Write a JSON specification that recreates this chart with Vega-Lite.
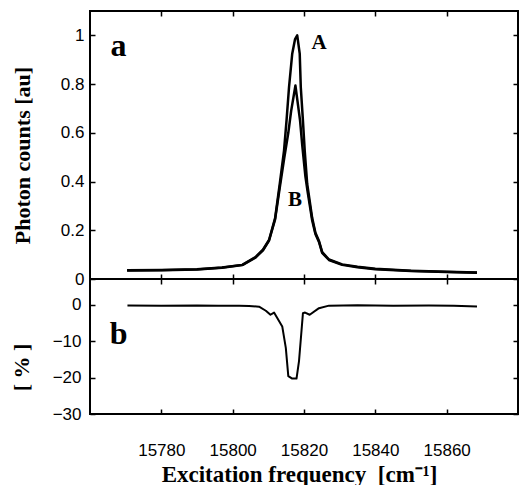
{
  "$schema": "https://vega.github.io/schema/vega-lite/v6.json",
  "background": "white",
  "padding": {"left": 9, "top": 9, "right": 0, "bottom": 0},
  "spacing": 0,
  "bounds": "flush",
  "config": {
    "view": {"stroke": "black", "strokeWidth": 2},
    "axis": {
      "domain": false, "grid": false, "tickColor": "black", "tickSize": -5, "tickWidth": 1.5,
      "labelFont": "Liberation Sans", "labelFontSize": 17, "labelColor": "black",
      "titleFont": "Liberation Serif", "titleFontWeight": "bold", "titleColor": "black", "titleFontSize": 22
    }
  },
  "datasets": {
    "spec": [
      {"f": 15770.4, "v": 0.036, "s": "A"}, {"f": 15780, "v": 0.037, "s": "A"}, {"f": 15790, "v": 0.040, "s": "A"},
      {"f": 15797, "v": 0.047, "s": "A"}, {"f": 15802.7, "v": 0.058, "s": "A"}, {"f": 15806.4, "v": 0.09, "s": "A"},
      {"f": 15808.5, "v": 0.12, "s": "A"}, {"f": 15810.2, "v": 0.16, "s": "A"}, {"f": 15811.9, "v": 0.25, "s": "A"},
      {"f": 15813.2, "v": 0.39, "s": "A"}, {"f": 15814.4, "v": 0.527, "s": "A"}, {"f": 15815.1, "v": 0.65, "s": "A"},
      {"f": 15815.8, "v": 0.787, "s": "A"}, {"f": 15816.7, "v": 0.925, "s": "A"}, {"f": 15817.5, "v": 0.985, "s": "A"},
      {"f": 15818.1, "v": 1.0, "s": "A"}, {"f": 15818.8, "v": 0.925, "s": "A"}, {"f": 15819.1, "v": 0.787, "s": "A"},
      {"f": 15819.7, "v": 0.65, "s": "A"}, {"f": 15820.2, "v": 0.527, "s": "A"}, {"f": 15820.9, "v": 0.39, "s": "A"},
      {"f": 15822.3, "v": 0.25, "s": "A"}, {"f": 15823.2, "v": 0.19, "s": "A"}, {"f": 15824.2, "v": 0.156, "s": "A"},
      {"f": 15825.1, "v": 0.11, "s": "A"}, {"f": 15827, "v": 0.08, "s": "A"}, {"f": 15830.7, "v": 0.06, "s": "A"},
      {"f": 15835, "v": 0.05, "s": "A"}, {"f": 15840, "v": 0.042, "s": "A"}, {"f": 15850, "v": 0.034, "s": "A"},
      {"f": 15860, "v": 0.03, "s": "A"}, {"f": 15868.5, "v": 0.027, "s": "A"},
      {"f": 15770.4, "v": 0.035, "s": "B"}, {"f": 15780, "v": 0.036, "s": "B"}, {"f": 15790, "v": 0.039, "s": "B"},
      {"f": 15797, "v": 0.046, "s": "B"}, {"f": 15802.7, "v": 0.057, "s": "B"}, {"f": 15806.4, "v": 0.088, "s": "B"},
      {"f": 15808.5, "v": 0.118, "s": "B"}, {"f": 15810.2, "v": 0.158, "s": "B"}, {"f": 15811.9, "v": 0.245, "s": "B"},
      {"f": 15813.3, "v": 0.385, "s": "B"}, {"f": 15814.5, "v": 0.5, "s": "B"}, {"f": 15815.6, "v": 0.6, "s": "B"},
      {"f": 15816.4, "v": 0.69, "s": "B"}, {"f": 15817.6, "v": 0.794, "s": "B"}, {"f": 15818.9, "v": 0.65, "s": "B"},
      {"f": 15819.5, "v": 0.55, "s": "B"}, {"f": 15820.4, "v": 0.42, "s": "B"}, {"f": 15821.0, "v": 0.36, "s": "B"},
      {"f": 15822.3, "v": 0.24, "s": "B"}, {"f": 15823.2, "v": 0.185, "s": "B"}, {"f": 15824.2, "v": 0.152, "s": "B"},
      {"f": 15825.1, "v": 0.107, "s": "B"}, {"f": 15827, "v": 0.078, "s": "B"}, {"f": 15830.7, "v": 0.058, "s": "B"},
      {"f": 15835, "v": 0.048, "s": "B"}, {"f": 15840, "v": 0.04, "s": "B"}, {"f": 15850, "v": 0.033, "s": "B"},
      {"f": 15860, "v": 0.029, "s": "B"}, {"f": 15868.5, "v": 0.026, "s": "B"}
    ],
    "diff": [
      {"f": 15770.5, "d": -0.27}, {"f": 15780, "d": -0.3}, {"f": 15790, "d": -0.25}, {"f": 15796, "d": -0.35},
      {"f": 15801.8, "d": -0.3}, {"f": 15804.6, "d": -0.4}, {"f": 15807.4, "d": -0.6}, {"f": 15809.3, "d": -1.7},
      {"f": 15810.6, "d": -2.8}, {"f": 15811.6, "d": -2.2}, {"f": 15813.9, "d": -6.0}, {"f": 15814.9, "d": -11.9},
      {"f": 15815.6, "d": -19.6}, {"f": 15816.7, "d": -20.3}, {"f": 15817.9, "d": -20.3}, {"f": 15818.6, "d": -15.5},
      {"f": 15819.7, "d": -2.4}, {"f": 15820.3, "d": -2.2}, {"f": 15821.6, "d": -2.8}, {"f": 15824.2, "d": -1.0},
      {"f": 15827, "d": -0.3}, {"f": 15835, "d": -0.2}, {"f": 15845, "d": -0.3}, {"f": 15855, "d": -0.25},
      {"f": 15862, "d": -0.35}, {"f": 15868.5, "d": -0.55}
    ]
  },
  "vconcat": [
    {
      "width": 428, "height": 268,
      "layer": [
        {
          "data": {"name": "spec"},
          "mark": {"type": "line", "color": "black", "strokeWidth": 2.5, "strokeJoin": "round"},
          "encoding": {
            "x": {"field": "f", "type": "quantitative", "scale": {"domain": [15760, 15880], "nice": false, "zero": false},
                  "axis": {"orient": "bottom", "values": [15780, 15800, 15820, 15840, 15860], "labels": false, "title": null}},
            "y": {"field": "v", "type": "quantitative", "scale": {"domain": [0, 1.1], "nice": false},
                  "axis": {"orient": "left", "values": [0, 0.2, 0.4, 0.6, 0.8, 1], "format": "~g", "labelPadding": 11,
                           "title": "Photon counts [au]", "titleX": -68, "titleY": 144, "titleBaseline": "middle"}},
            "detail": {"field": "s"}
          }
        },
        {
          "data": {"values": [{"f": 15768, "v": 0.955, "t": "a"}]},
          "mark": {"type": "text", "font": "Liberation Serif", "fontWeight": "bold", "fontSize": 32, "color": "black", "baseline": "middle", "align": "center"},
          "encoding": {
            "x": {"field": "f", "type": "quantitative", "axis": {"orient": "top", "values": [15780, 15800, 15820, 15840, 15860], "labels": false, "title": null}},
            "y": {"field": "v", "type": "quantitative", "axis": {"orient": "right", "values": [0, 0.2, 0.4, 0.6, 0.8, 1], "labels": false, "title": null}},
            "text": {"field": "t"}
          }
        },
        {
          "data": {"values": [{"f": 15824.2, "v": 0.967, "t": "A"}, {"f": 15817.5, "v": 0.325, "t": "B"}]},
          "mark": {"type": "text", "font": "Liberation Serif", "fontWeight": "bold", "fontSize": 21, "color": "black", "baseline": "middle", "align": "center"},
          "encoding": {
            "x": {"field": "f", "type": "quantitative", "axis": null},
            "y": {"field": "v", "type": "quantitative", "axis": null},
            "text": {"field": "t"}
          }
        }
      ],
      "resolve": {"axis": {"x": "independent", "y": "independent"}}
    },
    {
      "width": 428, "height": 135,
      "layer": [
        {
          "data": {"name": "diff"},
          "mark": {"type": "line", "color": "black", "strokeWidth": 2, "strokeJoin": "round"},
          "encoding": {
            "x": {"field": "f", "type": "quantitative", "scale": {"domain": [15760, 15880], "nice": false, "zero": false},
                  "axis": {"orient": "bottom", "values": [15780, 15800, 15820, 15840, 15860], "format": "d", "labelPadding": 33,
                           "title": "Excitation frequency \u00a0[cm⁻¹]", "titleFontSize": 23, "titleX": 209, "titleY": 67, "titleBaseline": "alphabetic"}},
            "y": {"field": "d", "type": "quantitative", "scale": {"domain": [-30, 7], "nice": false},
                  "axis": {"orient": "left", "values": [-30, -20, -10, 0], "labelPadding": 14,
                           "title": "[ % ]", "titleX": -69, "titleY": 88, "titleBaseline": "middle"}}
          }
        },
        {
          "data": {"values": [{"f": 15768, "d": -8.2, "t": "b"}]},
          "mark": {"type": "text", "font": "Liberation Serif", "fontWeight": "bold", "fontSize": 32, "color": "black", "baseline": "middle", "align": "center"},
          "encoding": {
            "x": {"field": "f", "type": "quantitative", "axis": {"orient": "top", "values": [15780, 15800, 15820, 15840, 15860], "labels": false, "title": null}},
            "y": {"field": "d", "type": "quantitative", "axis": {"orient": "right", "values": [-30, -20, -10, 0], "labels": false, "title": null}},
            "text": {"field": "t"}
          }
        }
      ],
      "resolve": {"axis": {"x": "independent", "y": "independent"}}
    }
  ]
}
